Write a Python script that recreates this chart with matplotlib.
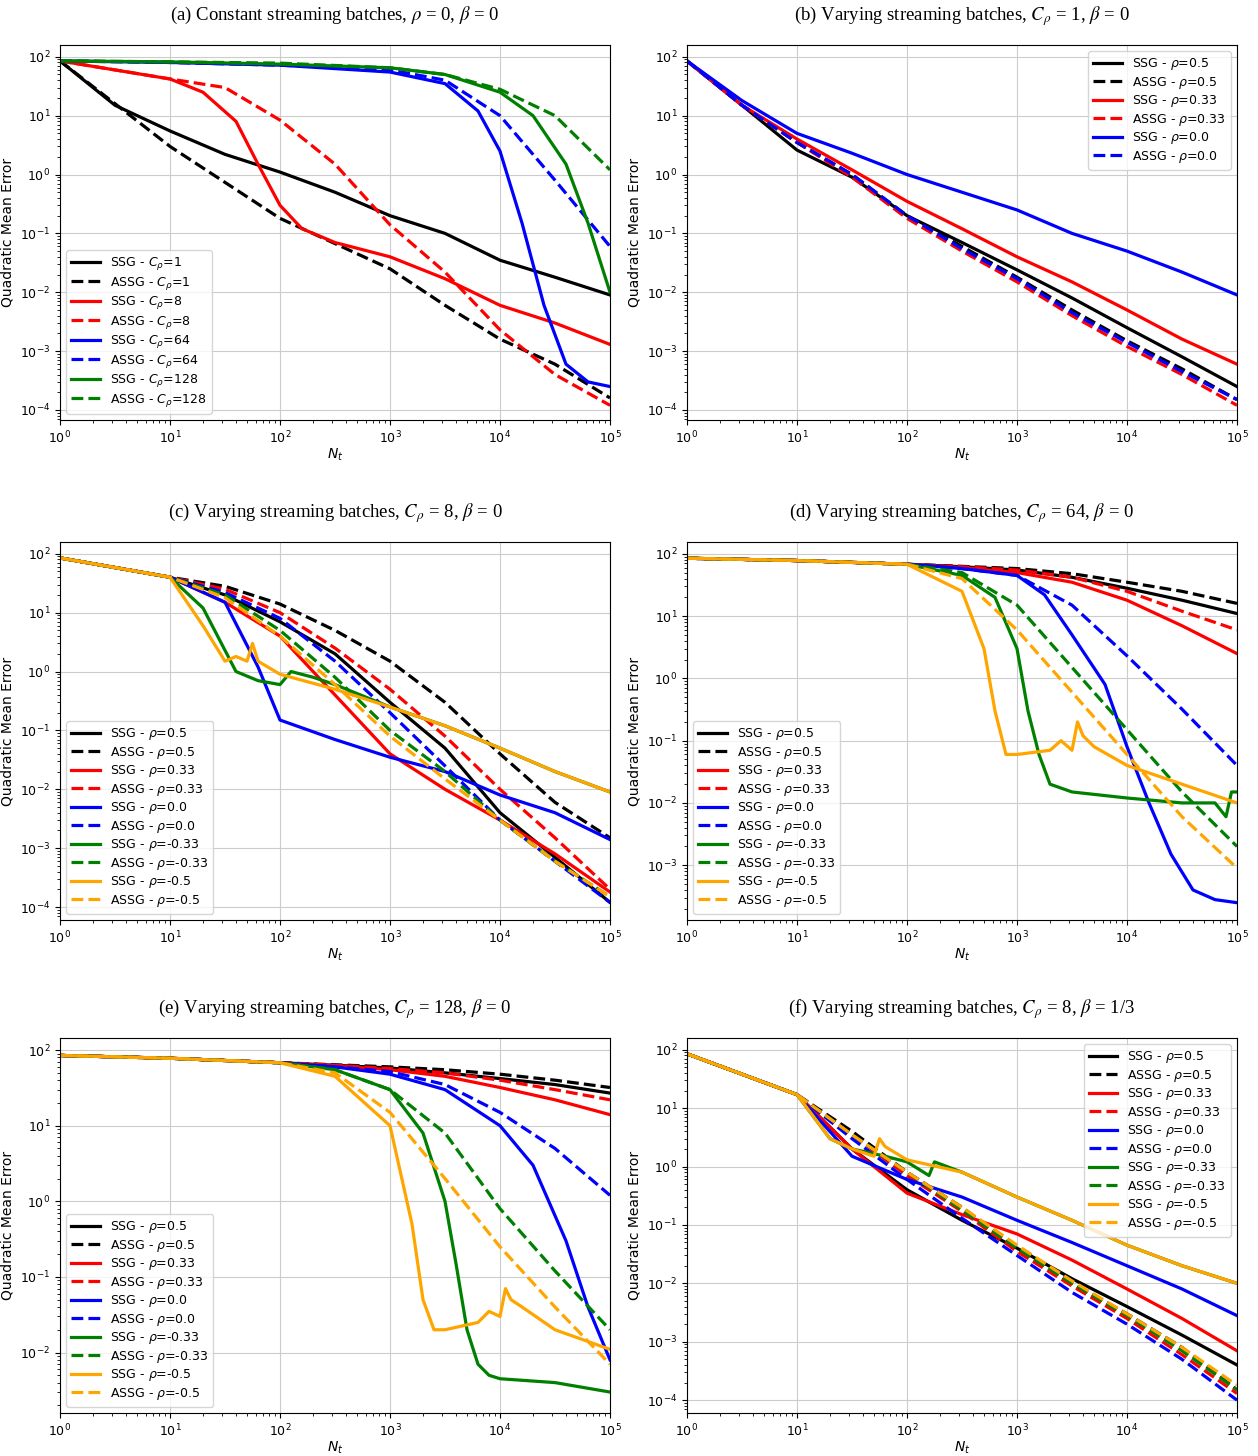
import matplotlib
matplotlib.use("Agg")
import matplotlib.pyplot as plt

# common log10(N_t) grids
LX = [0, 1, 2, 2.5, 3, 3.5, 4, 4.5, 5]
LX_H = [0, 0.5, 1, 1.5, 2, 2.5, 3, 3.5, 4, 4.5, 5]
LX_F = [0, 1, 1.5, 2, 2.5, 3, 3.5, 4, 4.5, 5]

# (a) constant batches, by C_rho
a_ssg_1 = ([0, 0.3, 0.5, 1, 1.5, 2, 2.5, 3, 3.5, 4, 4.5, 5],
           [85, 30, 15, 5.5, 2.2, 1.1, 0.5, 0.2, 0.1, 0.035, 0.018, 0.009])
a_assg_1 = ([0, 1, 2, 3, 3.5, 4, 4.5, 5], [85, 3, 0.18, 0.025, 0.006, 0.0016, 0.0006, 0.00016])
a_ssg_8 = ([0, 1, 1.3, 1.6, 1.8, 2, 2.2, 2.5, 3, 3.5, 4, 4.5, 5],
           [85, 42, 25, 8, 1.5, 0.3, 0.12, 0.07, 0.04, 0.017, 0.006, 0.003, 0.0013])
a_assg_8 = ([0, 1, 1.5, 2, 2.5, 3, 3.5, 4, 4.5, 5],
            [85, 42, 30, 8.4, 1.5, 0.14, 0.022, 0.0023, 0.0004, 0.00012])
a_ssg_64 = ([0, 1, 2, 3, 3.5, 3.8, 4, 4.2, 4.4, 4.6, 4.8, 5],
            [85, 80, 72, 55, 35, 12, 2.5, 0.15, 0.006, 0.0006, 0.0003, 0.00025])
a_assg_64 = ([0, 1, 2, 3, 3.5, 4, 4.5, 5], [85, 80, 72, 60, 40, 10, 0.8, 0.06])
a_ssg_128 = ([0, 1, 2, 3, 3.5, 4, 4.3, 4.6, 4.8, 5], [85, 82, 75, 65, 50, 25, 10, 1.5, 0.15, 0.01])
a_assg_128 = ([0, 1, 2, 3, 3.5, 4, 4.5, 5], [85, 82, 78, 65, 50, 28, 10, 1.2])

# (b) C_rho = 1
b_ssg_05 = (LX_H, [85, 15, 2.6, 0.9, 0.2, 0.07, 0.024, 0.008, 0.0025, 0.0008, 0.00025])
b_assg_05 = (LX_H, [85, 15, 3.5, 1, 0.2, 0.06, 0.018, 0.005, 0.0015, 0.0005, 0.00015])
b_ssg_033 = (LX_H, [85, 15, 4, 1.2, 0.35, 0.12, 0.04, 0.015, 0.005, 0.0016, 0.0006])
b_assg_033 = (LX_H, [85, 15, 3.5, 0.9, 0.18, 0.05, 0.015, 0.004, 0.0012, 0.0004, 0.00012])
b_ssg_0 = (LX_H, [85, 18, 5, 2.3, 1, 0.5, 0.25, 0.1, 0.05, 0.022, 0.009])
b_assg_0 = (LX_H, [85, 15, 3.5, 1, 0.2, 0.055, 0.017, 0.0045, 0.0014, 0.00045, 0.00015])

# (c) C_rho = 8
c_ssg_05 = (LX_F, [85, 40, 20, 7, 2, 0.3, 0.05, 0.004, 0.0007, 0.00012])
c_assg_05 = (LX_F, [85, 40, 28, 14, 5, 1.5, 0.3, 0.04, 0.006, 0.0015])
c_ssg_033 = (LX_F, [85, 40, 15, 4, 0.4, 0.04, 0.01, 0.003, 0.0008, 0.00018])
c_assg_033 = (LX_F, [85, 40, 25, 10, 2.5, 0.5, 0.08, 0.01, 0.0015, 0.0002])
c_ssg_0 = ([0, 1, 1.5, 1.8, 2, 2.5, 3, 3.5, 4, 4.5, 5],
           [85, 40, 15, 1.2, 0.15, 0.07, 0.035, 0.02, 0.008, 0.004, 0.0014])
c_assg_0 = (LX_F, [85, 40, 22, 8, 1.5, 0.2, 0.025, 0.003, 0.0006, 0.00012])
c_ssg_m033 = ([0, 1, 1.3, 1.6, 1.8, 2, 2.1, 2.3, 2.5, 3, 3.5, 4, 4.5, 5],
              [85, 40, 12, 1.0, 0.7, 0.6, 1.0, 0.8, 0.6, 0.25, 0.12, 0.05, 0.02, 0.009])
c_assg_m033 = (LX_F, [85, 40, 20, 5, 0.8, 0.1, 0.02, 0.003, 0.0006, 0.00015])
c_ssg_m05 = ([0, 1, 1.3, 1.5, 1.6, 1.7, 1.75, 1.8, 2, 2.5, 3, 3.5, 4, 4.5, 5],
             [85, 40, 6, 1.5, 1.8, 1.5, 3, 1.5, 0.9, 0.5, 0.25, 0.12, 0.05, 0.02, 0.009])
c_assg_m05 = (LX_F, [85, 40, 18, 4, 0.6, 0.08, 0.015, 0.003, 0.0006, 0.00015])

# (d) C_rho = 64
d_ssg_05 = (LX, [85, 78, 68, 62, 55, 42, 28, 18, 11])
d_assg_05 = (LX, [85, 78, 68, 63, 58, 48, 35, 25, 16])
d_ssg_033 = (LX, [85, 78, 68, 60, 50, 35, 18, 7, 2.5])
d_assg_033 = (LX, [85, 78, 68, 62, 55, 42, 25, 12, 6])
d_ssg_0 = ([0, 1, 2, 2.5, 3, 3.25, 3.5, 3.8, 4, 4.2, 4.4, 4.6, 4.8, 5],
           [85, 78, 68, 58, 45, 22, 5, 0.8, 0.08, 0.01, 0.0015, 0.0004, 0.00028, 0.00025])
d_assg_0 = (LX, [85, 78, 68, 58, 45, 15, 2.3, 0.32, 0.04])
d_ssg_m033 = ([0, 1, 2, 2.5, 2.8, 3, 3.1, 3.2, 3.3, 3.5, 4, 4.5, 4.8, 4.9, 4.95, 5],
              [85, 78, 68, 45, 20, 3, 0.3, 0.06, 0.02, 0.015, 0.012, 0.01, 0.01, 0.006, 0.015, 0.015])
d_assg_m033 = (LX, [85, 78, 68, 50, 15, 1.5, 0.15, 0.015, 0.002])
d_ssg_m05 = ([0, 1, 2, 2.5, 2.7, 2.8, 2.9, 3, 3.3, 3.4, 3.5, 3.55, 3.6, 3.7, 4, 4.5, 5],
             [85, 78, 68, 25, 3, 0.3, 0.06, 0.06, 0.07, 0.1, 0.07, 0.2, 0.12, 0.08, 0.04, 0.02, 0.01])
d_assg_m05 = (LX, [85, 78, 68, 40, 6, 0.6, 0.06, 0.006, 0.0009])

# (e) C_rho = 128
e_ssg_05 = (LX, [85, 78, 68, 63, 58, 50, 42, 35, 27])
e_assg_05 = (LX, [85, 78, 68, 64, 60, 55, 48, 40, 32])
e_ssg_033 = (LX, [85, 78, 68, 62, 55, 45, 32, 22, 14])
e_assg_033 = (LX, [85, 78, 68, 63, 57, 50, 40, 30, 22])
e_ssg_0 = ([0, 1, 2, 2.5, 3, 3.5, 4, 4.3, 4.6, 4.8, 5],
           [85, 78, 68, 60, 48, 30, 10, 3, 0.3, 0.04, 0.008])
e_assg_0 = (LX, [85, 78, 68, 60, 52, 35, 15, 5, 1.2])
e_ssg_m033 = ([0, 1, 2, 2.5, 3, 3.3, 3.5, 3.6, 3.7, 3.8, 3.9, 4, 4.5, 5],
              [85, 78, 68, 55, 30, 8, 1, 0.15, 0.02, 0.007, 0.005, 0.0045, 0.004, 0.003])
e_assg_m033 = (LX, [85, 78, 68, 55, 30, 8, 0.8, 0.12, 0.02])
e_ssg_m05 = ([0, 1, 2, 2.5, 3, 3.2, 3.3, 3.4, 3.5, 3.8, 3.9, 4, 4.05, 4.1, 4.2, 4.5, 5],
             [85, 78, 68, 45, 10, 0.5, 0.05, 0.02, 0.02, 0.025, 0.035, 0.03, 0.07, 0.05, 0.04, 0.02, 0.011])
e_assg_m05 = (LX, [85, 78, 68, 50, 15, 2, 0.25, 0.04, 0.007])

# (f) C_rho = 8, beta = 1/3
f_ssg_05 = (LX_F, [85, 17, 2, 0.4, 0.12, 0.04, 0.012, 0.004, 0.0013, 0.0004])
f_assg_05 = (LX_F, [85, 17, 4, 0.8, 0.2, 0.04, 0.01, 0.003, 0.0008, 0.00015])
f_ssg_033 = (LX_F, [85, 17, 2, 0.35, 0.15, 0.07, 0.025, 0.008, 0.0025, 0.0007])
f_assg_033 = (LX_F, [85, 17, 3.5, 0.7, 0.17, 0.035, 0.009, 0.0025, 0.0006, 0.00013])
f_ssg_0 = (LX_F, [85, 17, 1.5, 0.6, 0.3, 0.12, 0.05, 0.02, 0.008, 0.0028])
f_assg_0 = (LX_F, [85, 17, 3, 0.6, 0.13, 0.03, 0.007, 0.002, 0.0005, 0.0001])
f_ssg_m033 = ([0, 1, 1.3, 1.5, 1.8, 2, 2.2, 2.25, 2.5, 3, 3.5, 4, 4.5, 5],
              [85, 17, 3, 2, 1.5, 1.2, 0.7, 1.2, 0.8, 0.3, 0.12, 0.045, 0.02, 0.01])
f_assg_m033 = (LX_F, [85, 17, 3.5, 0.8, 0.18, 0.04, 0.01, 0.0028, 0.0007, 0.00015])
f_ssg_m05 = ([0, 1, 1.3, 1.5, 1.7, 1.75, 1.8, 2, 2.5, 3, 3.5, 4, 4.5, 5],
             [85, 17, 3, 2, 1.5, 3, 2.2, 1.3, 0.8, 0.3, 0.12, 0.045, 0.02, 0.01])
f_assg_m05 = (LX_F, [85, 17, 3.5, 0.8, 0.2, 0.045, 0.011, 0.003, 0.0008, 0.00018])

RHO_LABELS = ['0.5', '0.33', '0.0', '-0.33', '-0.5']
RHO_COLORS = ['black', 'red', 'blue', 'green', 'orange']


def rho_series(ssg, assg):
    out = []
    for s, a, r, c in zip(ssg, assg, RHO_LABELS, RHO_COLORS):
        out.append((s, 'SSG - $\\rho$=' + r, c, '-'))
        out.append((a, 'ASSG - $\\rho$=' + r, c, '--'))
    return out


panels = [
    ('(a) Constant streaming batches, $\\rho$ = 0, $\\beta$ = 0',
     [(a_ssg_1, 'SSG - $C_\\rho$=1', 'black', '-'), (a_assg_1, 'ASSG - $C_\\rho$=1', 'black', '--'),
      (a_ssg_8, 'SSG - $C_\\rho$=8', 'red', '-'), (a_assg_8, 'ASSG - $C_\\rho$=8', 'red', '--'),
      (a_ssg_64, 'SSG - $C_\\rho$=64', 'blue', '-'), (a_assg_64, 'ASSG - $C_\\rho$=64', 'blue', '--'),
      (a_ssg_128, 'SSG - $C_\\rho$=128', 'green', '-'), (a_assg_128, 'ASSG - $C_\\rho$=128', 'green', '--')],
     'lower left', (-4.17, 2.2)),
    ('(b) Varying streaming batches, $C_\\rho$ = 1, $\\beta$ = 0',
     rho_series([b_ssg_05, b_ssg_033, b_ssg_0], [b_assg_05, b_assg_033, b_assg_0]),
     'upper right', (-4.17, 2.2)),
    ('(c) Varying streaming batches, $C_\\rho$ = 8, $\\beta$ = 0',
     rho_series([c_ssg_05, c_ssg_033, c_ssg_0, c_ssg_m033, c_ssg_m05],
                [c_assg_05, c_assg_033, c_assg_0, c_assg_m033, c_assg_m05]),
     'lower left', (-4.22, 2.2)),
    ('(d) Varying streaming batches, $C_\\rho$ = 64, $\\beta$ = 0',
     rho_series([d_ssg_05, d_ssg_033, d_ssg_0, d_ssg_m033, d_ssg_m05],
                [d_assg_05, d_assg_033, d_assg_0, d_assg_m033, d_assg_m05]),
     'lower left', (-3.88, 2.19)),
    ('(e) Varying streaming batches, $C_\\rho$ = 128, $\\beta$ = 0',
     rho_series([e_ssg_05, e_ssg_033, e_ssg_0, e_ssg_m033, e_ssg_m05],
                [e_assg_05, e_assg_033, e_assg_0, e_assg_m033, e_assg_m05]),
     'lower left', (-2.8, 2.16)),
    ('(f) Varying streaming batches, $C_\\rho$ = 8, $\\beta$ = 1/3',
     rho_series([f_ssg_05, f_ssg_033, f_ssg_0, f_ssg_m033, f_ssg_m05],
                [f_assg_05, f_assg_033, f_assg_0, f_assg_m033, f_assg_m05]),
     'upper right', (-4.22, 2.2)),
]

fig = plt.figure(figsize=(12.58, 14.56), dpi=100)
lefts = [60 / 1258, 687 / 1258]
rows = [(45, 420), (542, 920), (1038, 1413)]

for i, (title, series, loc, ylog) in enumerate(panels):
    top, bot = rows[i // 2]
    ax = fig.add_axes([lefts[i % 2], 1 - bot / 1456, 550 / 1258, (bot - top) / 1456])
    for (lx, y), lab, col, ls in series:
        ax.plot([10 ** v for v in lx], y, color=col, ls=ls, lw=2.3, label=lab)
    ax.set_xscale('log')
    ax.set_yscale('log')
    ax.set_xlim(1, 1e5)
    ax.set_ylim(10 ** ylog[0], 10 ** ylog[1])
    ax.grid(True, which='major', color='#cccccc', lw=0.8)
    ax.tick_params(labelsize=9)
    ax.set_xlabel('$N_t$', fontsize=10, labelpad=0)
    ax.set_ylabel('Quadratic Mean Error', fontsize=10)
    ax.set_title(title, fontsize=13.5, family='Liberation Serif', math_fontfamily='stix', pad=18)
    ax.legend(loc=loc, fontsize=9, handlelength=2.3, labelspacing=0.2)

fig.savefig('out.png', dpi=100)
